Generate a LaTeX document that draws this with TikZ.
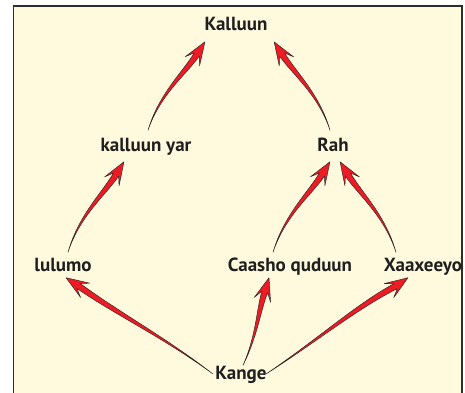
\documentclass[tikz,border=0pt]{standalone}
\usepackage{fontspec}
\setmainfont{PT Sans}
\usepackage{tikz}
\usetikzlibrary{calc, positioning}
\definecolor{paperBg}{RGB}{255, 250, 222}
\definecolor{arrowRed}{RGB}{237, 28, 36}
\definecolor{frameGray}{RGB}{45, 45, 45}

\tikzset{
  concept/.style={font=\bfseries\fontsize{19}{21}\selectfont, text=black!88,
    inner sep=2pt, text height=11pt, text depth=3pt},
  redarrow/.style={fill=arrowRed, draw=black!85, line width=0.45pt, line join=round}
}

% tapered red arrow: start, tip, bend near start, bend near head
\newcommand{\flowarrow}[4]{%
  \pgfpointdiff{\pgfpointanchor{#1}{center}}{\pgfpointanchor{#2}{center}}%
  \pgfgetlastxy{\fax}{\fay}%
  \pgfmathsetmacro{\falen}{veclen(\fax,\fay)}%
  \pgfmathsetmacro{\faang}{atan2(\fay,\fax)}%
  \pgfmathsetmacro{\fabase}{\falen-15}%
  \pgfmathsetmacro{\fabarb}{\falen-23}%
  \begin{scope}[shift={(#1)}, rotate=\faang]
    \filldraw[redarrow] (0,0)
      .. controls ({0.35*\falen},{#3+0.8}) and ({0.65*\falen},{#4+2.2}) .. (\fabase,3)
      -- (\fabarb,8.5) -- (\falen,0) -- (\fabarb,-8.5) -- (\fabase,-3)
      .. controls ({0.65*\falen},{#4-2.2}) and ({0.35*\falen},{#3-0.8}) .. cycle;
  \end{scope}}

\begin{document}
\begin{tikzpicture}[x=1pt, y=1pt]
  \useasboundingbox (0,0) rectangle (465,-392);
  \filldraw[fill=paperBg, draw=frameGray, line width=1.3pt] (13.5,-6) rectangle (462,-410);

  \node[concept] (kalluun) at (236,-26.5) {Kalluun};
  \node[concept] (kyar)    at (146,-147)  {kalluun yar};
  \node[concept] (rah)     at (333,-147)  {Rah};
  \node[concept] (lulumo)  at (63,-267)   {lulumo};
  \node[concept] (caasho)  at (290,-267)  {Caasho quduun};
  \node[concept] (xaax)    at (423,-267)  {Xaaxeeyo};
  \node[concept] (kange)   at (241,-375.5) {Kange};

  % arrow ends
  \coordinate (kyar-out)   at ([shift={(2,7.5)}]kyar.north);
  \coordinate (rah-out)    at ([shift={(-3,7.5)}]rah.north);
  \coordinate (kal-in1)    at ([shift={(-31,-6)}]kalluun.south);
  \coordinate (kal-in2)    at ([shift={(38,-6)}]kalluun.south);
  \coordinate (lulumo-out) at ([shift={(5,5.5)}]lulumo.north);
  \coordinate (caasho-out) at ([shift={(-17,5.5)}]caasho.north);
  \coordinate (xaax-out)   at ([shift={(-27,5.5)}]xaax.north);
  \coordinate (kyar-in)    at ([shift={(-22,-5.5)}]kyar.south);
  \coordinate (rah-in1)    at ([shift={(-3,-5.5)}]rah.south);
  \coordinate (rah-in2)    at ([shift={(7,-5.5)}]rah.south);
  \coordinate (kange-out1) at ([shift={(-28,1.5)}]kange.center);
  \coordinate (kange-out2) at ([shift={(2,1)}]kange.north);
  \coordinate (kange-out3) at ([shift={(25,1.5)}]kange.center);
  \coordinate (lulumo-in)  at ([shift={(3,-1.5)}]lulumo.south);
  \coordinate (caasho-in)  at ([shift={(-21,-1.5)}]caasho.south);
  \coordinate (xaax-in)    at ([shift={(-15,-1.5)}]xaax.south);

  \flowarrow{kyar-out}{kal-in1}{10}{0}
  \flowarrow{rah-out}{kal-in2}{-10}{0}
  \flowarrow{lulumo-out}{kyar-in}{10}{0}
  \flowarrow{caasho-out}{rah-in1}{10}{0}
  \flowarrow{xaax-out}{rah-in2}{-10}{0}
  \flowarrow{kange-out1}{lulumo-in}{-4}{2}
  \flowarrow{kange-out2}{caasho-in}{-5}{1}
  \flowarrow{kange-out3}{xaax-in}{-1}{5}
\end{tikzpicture}
\end{document}
